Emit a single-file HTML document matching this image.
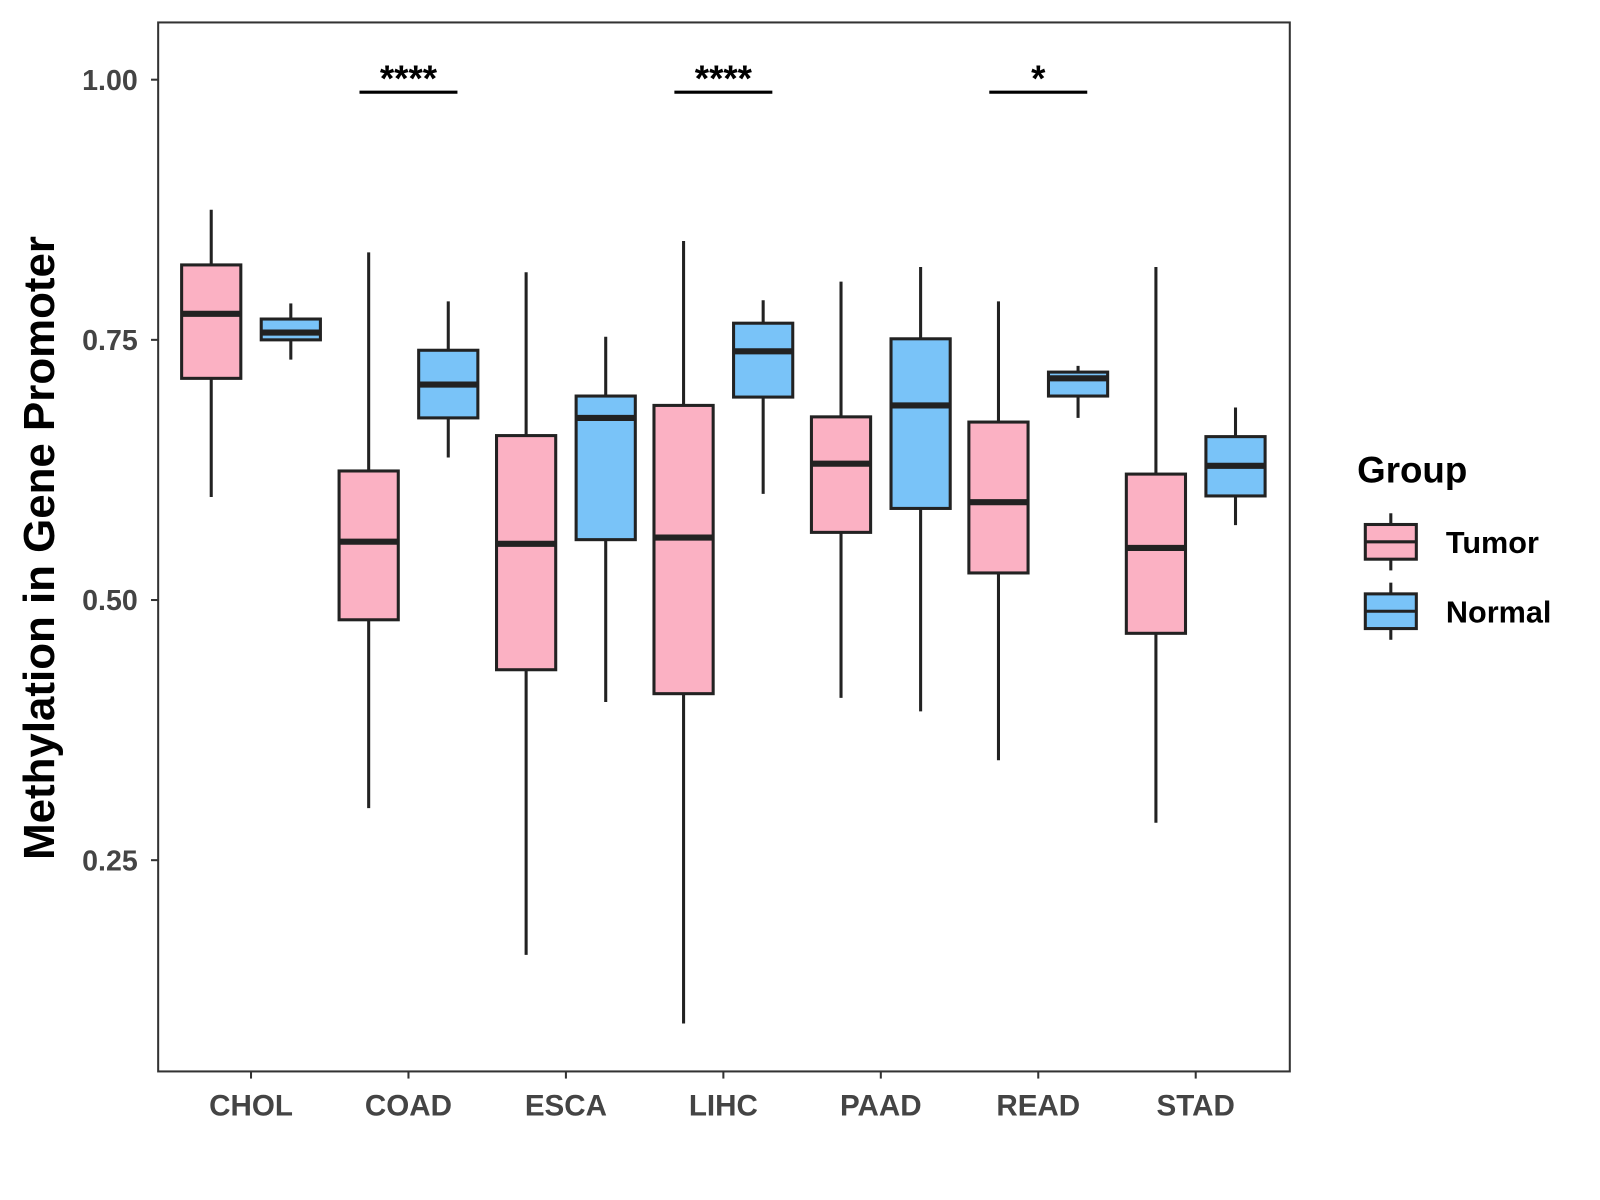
<!DOCTYPE html>
<html><head><meta charset="utf-8"><style>html,body{margin:0;padding:0;background:#fff}svg{display:block}text{font-family:"Liberation Sans",Arial,sans-serif;font-weight:bold}</style></head>
<body>
<svg id="chart" width="1600" height="1200" viewBox="0 0 1568 1176" xmlns="http://www.w3.org/2000/svg">
<rect x="0" y="0" width="1568" height="1176" fill="#fff"/>
<g id="plot"></g>
</svg>
<script>
const categories=["CHOL","COAD","ESCA","LIHC","PAAD","READ","STAD"];
// [lowWhisker, q1, median, q3, highWhisker]
const tumorStats=[[0.599,0.713,0.775,0.822,0.875],[0.300,0.481,0.556,0.624,0.834],[0.159,0.433,0.554,0.658,0.815],[0.093,0.410,0.560,0.687,0.845],[0.406,0.565,0.631,0.676,0.806],[0.346,0.526,0.594,0.671,0.787],[0.286,0.468,0.550,0.621,0.820]];
const normalStats=[[0.731,0.750,0.757,0.770,0.785],[0.637,0.675,0.707,0.740,0.787],[0.402,0.558,0.675,0.696,0.753],[0.602,0.695,0.739,0.766,0.788],[0.393,0.588,0.687,0.751,0.820],[0.675,0.696,0.713,0.719,0.725],[0.572,0.600,0.629,0.657,0.685]];
const yTicks=[0.25,0.50,0.75,1.00];
const yTickLabels=["0.25","0.50","0.75","1.00"];
const sigCategories=["COAD","LIHC","READ"];
const sigLabels=["****","****","*"];
const sigY=0.988;

const NS="http://www.w3.org/2000/svg";
const g=document.getElementById('plot');
const P={l:155,r:1264,t:22,b:1050};
const yMin=0.047,yMax=1.055;
function yS(v){return P.b-(v-yMin)/(yMax-yMin)*(P.b-P.t);}
const x0=246,step=154.3;
function xS(i){return x0+step*i;}
function mk(t,a,parent){const e=document.createElementNS(NS,t);for(const k in a)e.setAttribute(k,a[k]);(parent||g).appendChild(e);return e;}

let e;
e=mk('rect',{x:P.l,y:P.t,width:P.r-P.l,height:P.b-P.t,fill:'none',stroke:'#333','stroke-width':2});


yTicks.forEach((v,i)=>{
 const y=yS(v);
 e=mk('line',{x1:P.l-7,x2:P.l,y1:y,y2:y,stroke:'#333','stroke-width':2});
 
 e=mk('text',{x:P.l-20,y:y+10,'text-anchor':'end','font-size':28,fill:'#444'});e.textContent=yTickLabels[i];
 
});
categories.forEach((c,i)=>{
 const x=xS(i);
 e=mk('line',{x1:x,x2:x,y1:P.b,y2:P.b+7,stroke:'#333','stroke-width':2});
 
 e=mk('text',{x:x,y:P.b+43,'text-anchor':'middle','font-size':29,fill:'#444'});e.textContent=c;
 
});
e=mk('text',{x:0,y:0,'text-anchor':'middle','font-size':43,fill:'#000',transform:'translate(53,537) rotate(-90)'});e.textContent='Methylation in Gene Promoter';


const off=39,hw=29;
function box(cx,s,fill,name){
 const grp=mk('g',{});
 
 mk('line',{x1:cx,x2:cx,y1:yS(s[0]),y2:yS(s[4]),stroke:'#222','stroke-width':3},grp);
 mk('rect',{x:cx-hw,y:yS(s[3]),width:2*hw,height:yS(s[1])-yS(s[3]),fill:fill,stroke:'#222','stroke-width':3},grp);
 mk('line',{x1:cx-hw,x2:cx+hw,y1:yS(s[2]),y2:yS(s[2]),stroke:'#222','stroke-width':6},grp);
}
categories.forEach((c,i)=>{
 box(xS(i)-off,tumorStats[i],'#FBB1C3','box-tumor-'+c.toLowerCase());
 box(xS(i)+off,normalStats[i],'#79C3F8','box-normal-'+c.toLowerCase());
});
sigCategories.forEach((c,k)=>{
 const i=categories.indexOf(c),x=xS(i),y=yS(sigY);
 e=mk('line',{x1:x-48,x2:x+48,y1:y,y2:y,stroke:'#000','stroke-width':3});
 
 e=mk('text',{x:x,y:y-1,'text-anchor':'middle','font-size':36,fill:'#000'});e.textContent=sigLabels[k];
 
});
// legend
e=mk('text',{x:1330,y:473,'font-size':36,fill:'#000'});e.textContent='Group';

[['Tumor','#FBB1C3',531],['Normal','#79C3F8',599]].forEach(([lab,col,cy])=>{
 const lg=mk('g',{});
 
 mk('line',{x1:1363,x2:1363,y1:cy-28,y2:cy+28,stroke:'#222','stroke-width':3},lg);
 mk('rect',{x:1338,y:cy-17,width:50,height:34,fill:col,stroke:'#222','stroke-width':3},lg);
 mk('line',{x1:1338,x2:1388,y1:cy,y2:cy,stroke:'#222','stroke-width':3},lg);
 const t=mk('text',{x:1417,y:cy+11,'font-size':30,fill:'#000'},lg);t.textContent=lab;
});
</script>
</body></html>
